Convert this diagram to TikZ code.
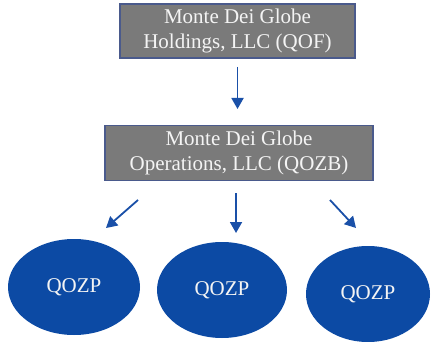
\documentclass[tikz,border=0pt]{standalone}
\usepackage{fontspec}
\setmainfont{Liberation Serif}
\usetikzlibrary{arrows.meta,shapes.geometric}

\definecolor{boxgray}{HTML}{7A7A7A}
\definecolor{boxedge}{HTML}{4A5A8C}
\definecolor{entblue}{HTML}{0C4AA4}
\definecolor{arrowblue}{HTML}{1A50A8}
\definecolor{lighttext}{HTML}{F4F4F4}

\begin{document}
\begin{tikzpicture}[x=1pt,y=-1pt,
  entity/.style={draw=boxedge, line width=1.6pt, fill=boxgray, text=lighttext,
    align=center, inner sep=0pt, font=\fontsize{21}{25.5}\selectfont},
  zone/.style={ellipse, fill=entblue, text=lighttext, inner sep=0pt,
    font=\fontsize{21}{24}\selectfont},
  arr/.style={draw=arrowblue, line width=1.8pt,
    -{Triangle[width=12pt,length=11pt]}}]
  \useasboundingbox (0,0) rectangle (436,342);

  % fund and operating business
  \node[entity, minimum width=235pt, minimum height=54pt] (fund) at (237.5,31)
    {Monte Dei Globe\\Holdings, LLC (QOF)};
  \node[entity, minimum width=268pt, minimum height=55pt] (ops) at (239,153)
    {Monte Dei Globe\\Operations, LLC (QOZB)};

  % qualified opportunity zone properties
  \node[zone, minimum width=132pt, minimum height=96pt] (p1) at (74,287) {QOZP};
  \node[zone, minimum width=130pt, minimum height=96pt] (p2) at (222,290) {QOZP};
  \node[zone, minimum width=124pt, minimum height=96pt] (p3) at (368,294) {QOZP};

  % connector ends
  \coordinate (s0) at (fund.south |- 0,67);
  \coordinate (e0) at (fund.south |- 0,109);
  \coordinate (s1) at (138,200);
  \coordinate (e1) at (106,228);
  \coordinate (s2) at (236,193);
  \coordinate (e2) at (236,233);
  \coordinate (s3) at (330,200);
  \coordinate (e3) at (356,228);

  \draw[arr] (s0) -- (e0);
  \draw[arr] (s1) -- (e1);
  \draw[arr] (s2) -- (e2);
  \draw[arr] (s3) -- (e3);
\end{tikzpicture}
\end{document}
